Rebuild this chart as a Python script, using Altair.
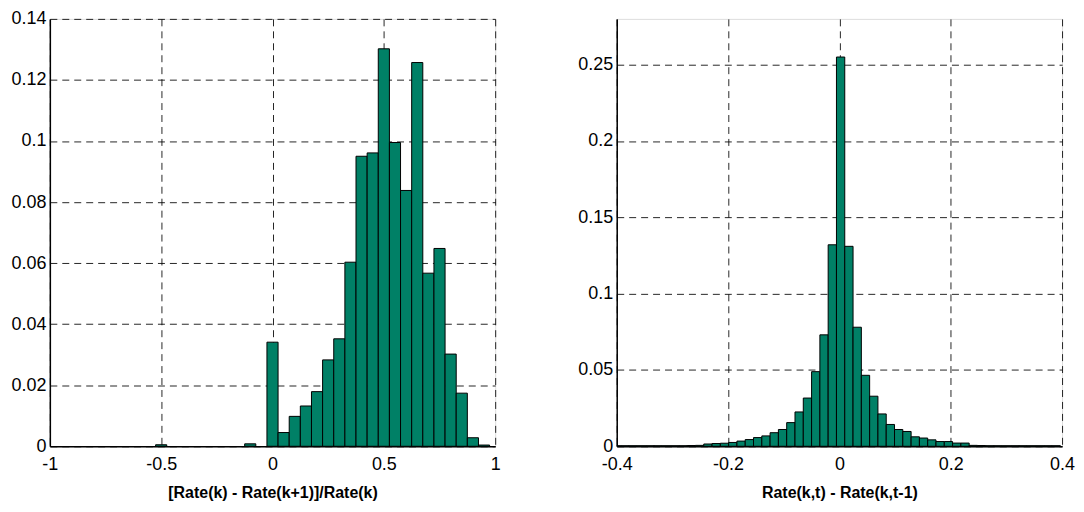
import altair as alt
import pandas as pd

# Left histogram: bin centres and relative frequencies
left_centers = [-0.5, -0.1, 0.0, 0.05, 0.10, 0.15, 0.20, 0.25, 0.30, 0.35, 0.40, 0.45,
                0.50, 0.55, 0.60, 0.65, 0.70, 0.75, 0.80, 0.85, 0.90, 0.95]
left_values = [0.0005, 0.0008, 0.0341, 0.0045, 0.0098, 0.0132, 0.0179, 0.0283, 0.0352, 0.0603,
               0.0950, 0.0961, 0.1302, 0.0995, 0.0838, 0.1257, 0.0567, 0.0648, 0.0302, 0.0174,
               0.0028, 0.0004]
left_width = 0.05

# Right histogram: bin index relative to the peak bin and relative frequencies
right_bins = list(range(-27, 27))
right_left_tail = [0.0004, 0.0004, 0.0004, 0.0004, 0.0004, 0.0004, 0.0004, 0.0004, 0.0004, 0.0005,
                   0.0006]                       # k = -27 .. -17
right_left_body = [0.0015, 0.0018, 0.0020, 0.0025, 0.0034, 0.0044, 0.0057, 0.0068, 0.0089, 0.0110,
                   0.0155, 0.0225, 0.0316, 0.0489, 0.0730, 0.1320]   # k = -16 .. -1
right_peak = [0.2550]                            # k = 0
right_right_body = [0.1310, 0.0780, 0.0465, 0.0328, 0.0212, 0.0143, 0.0110, 0.0097, 0.0062, 0.0054,
                    0.0042, 0.0031, 0.0031, 0.0021, 0.0021]           # k = 1 .. 15
right_right_tail = [0.0006, 0.0005, 0.0004, 0.0004, 0.0004, 0.0004, 0.0004, 0.0004, 0.0004, 0.0004,
                    0.0004]                      # k = 16 .. 26
right_values = right_left_tail + right_left_body + right_peak + right_right_body + right_right_tail
right_width = 0.0149
right_offset = 0.0022

ldf = pd.DataFrame({"c": left_centers, "v": left_values})
ldf["x0"] = ldf["c"] - left_width / 2
ldf["x1"] = ldf["c"] + left_width / 2

rc = [right_offset + k * right_width for k in right_bins]
rdf = pd.DataFrame({"c": rc, "v": right_values})
rdf["x0"] = rdf["c"] - right_width / 2
rdf["x1"] = rdf["c"] + right_width / 2

FILL = "#008066"
FONT = "Liberation Sans"
MINUS_FIX = "replace(datum.label, '\u2212', '-')"

def axis_x(title, vals):
    return alt.Axis(title=title, values=vals, format="~g", labelExpr=MINUS_FIX,
                    grid=True, ticks=False,
                    labelFlush=False, labelFontSize=18, labelPadding=9,
                    titleFontSize=16, titleFontWeight="bold", titlePadding=11,
                    gridDash=[7, 5], gridColor="#000000", gridOpacity=0.85, gridWidth=1,
                    domainColor="#000000", domainWidth=1.5, labelColor="#000000",
                    titleColor="#000000")

def axis_y(vals):
    return alt.Axis(title=None, values=vals, format="~g", grid=True, ticks=False,
                    labelFontSize=18, labelPadding=4,
                    gridDash=[7, 5], gridColor="#000000", gridOpacity=0.85, gridWidth=1,
                    domainColor="#000000", domainWidth=1.5, labelColor="#000000")

W, H = 447, 429

left = alt.Chart(ldf).mark_bar(fill=FILL, stroke="#000000", strokeWidth=1, clip=True).encode(
    x=alt.X("x0:Q", scale=alt.Scale(domain=[-1, 1], nice=False),
            axis=axis_x("[Rate(k) - Rate(k+1)]/Rate(k)", [-1, -0.5, 0, 0.5, 1])),
    x2="x1:Q",
    y=alt.Y("v:Q", scale=alt.Scale(domain=[0, 0.14], nice=False),
            axis=axis_y([0, 0.02, 0.04, 0.06, 0.08, 0.1, 0.12, 0.14])),
    y2=alt.datum(0),
).properties(width=W, height=H)

right = alt.Chart(rdf).mark_bar(fill=FILL, stroke="#000000", strokeWidth=1, clip=True).encode(
    x=alt.X("x0:Q", scale=alt.Scale(domain=[-0.4, 0.4], nice=False),
            axis=axis_x("Rate(k,t) - Rate(k,t-1)", [-0.4, -0.2, 0, 0.2, 0.4])),
    x2="x1:Q",
    y=alt.Y("v:Q", scale=alt.Scale(domain=[0, 0.28], nice=False),
            axis=axis_y([0, 0.05, 0.1, 0.15, 0.2, 0.25])),
    y2=alt.datum(0),
).properties(width=W, height=H)

chart = alt.hconcat(left, right, spacing=76).properties(
    padding={"left": 2, "top": 0, "right": 0, "bottom": 0}
).configure_view(stroke="#000000", strokeWidth=1.5).configure(
    font=FONT, background="#ffffff"
)

chart.save("out.html", embed_options={"renderer": "svg", "actions": False})
